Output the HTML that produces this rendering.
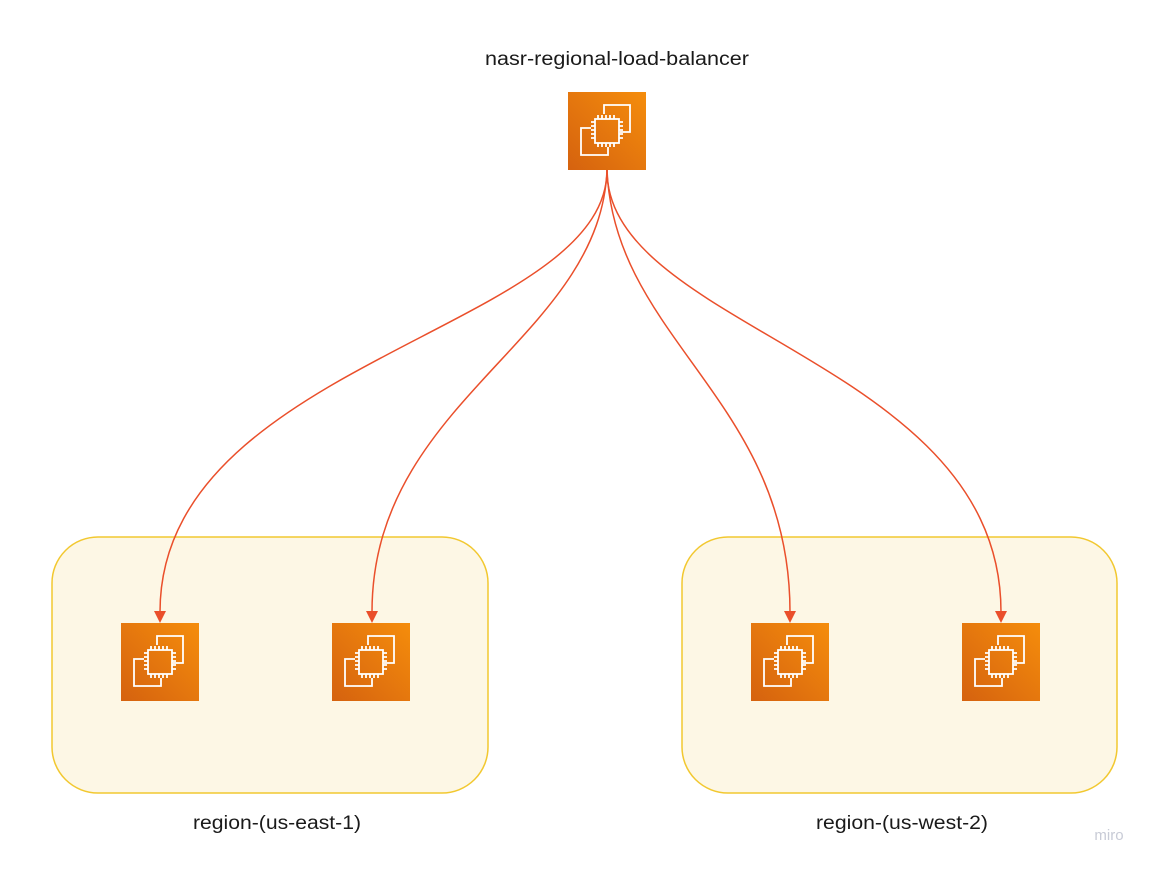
<!DOCTYPE html>
<html><head><meta charset="utf-8"><style>
body{margin:0;background:#fff;width:1153px;height:866px;overflow:hidden;font-family:"Liberation Sans",sans-serif}
</style></head><body>
<svg width="1153" height="866" xmlns="http://www.w3.org/2000/svg">
<defs>
<linearGradient id="g" x1="0" y1="1" x2="1" y2="0">
<stop offset="0" stop-color="#d5620f"/><stop offset="1" stop-color="#f58d0c"/>
</linearGradient>
<g id="ic">
<rect width="78" height="78" fill="url(#g)"/>
<g fill="none" stroke="#fff" stroke-width="1.8">
<polyline points="36,22 36,13 62,13 62,40 52,40"/>
<polyline points="23,36 13,36 13,63 40,63 40,55"/>
<rect x="27" y="27" width="24" height="24"/>
<path d="M30,23v4M34,23v4M38,23v4M42,23v4M46,23v4M30,51v4M34,51v4M38,51v4M42,51v4M46,51v4M23,30h4M23,34h4M23,38h4M23,42h4M23,46h4M51,30h4M51,34h4M51,38h4M51,42h4M51,46h4"/>
</g>
</g>
</defs>
<rect x="52" y="537" width="436" height="256" rx="46" fill="#fdf7e5" stroke="#f2c830" stroke-width="1.5"/>
<rect x="682" y="537" width="435" height="256" rx="46" fill="#fdf7e5" stroke="#f2c830" stroke-width="1.5"/>
<g fill="none" stroke="#ea4f2b" stroke-width="1.5">
<path d="M607,170 C607,330 160,360 160,612"/>
<path d="M607,170 C600,340 372,400 372,612"/>
<path d="M607,170 C614,340 790,400 790,612"/>
<path d="M607,170 C607,330 1001,360 1001,612"/>
</g>
<g fill="#ea4f2b">
<path d="M154,611 L166,611 L160,623 Z"/>
<path d="M366,611 L378,611 L372,623 Z"/>
<path d="M784,611 L796,611 L790,623 Z"/>
<path d="M995,611 L1007,611 L1001,623 Z"/>
</g>
<use href="#ic" x="568" y="92"/>
<use href="#ic" x="121" y="623"/>
<use href="#ic" x="332" y="623"/>
<use href="#ic" x="751" y="623"/>
<use href="#ic" x="962" y="623"/>
<g font-family="Liberation Sans, sans-serif" font-size="19" fill="#1a1a1a">
<text x="485" y="65" textLength="264" lengthAdjust="spacingAndGlyphs">nasr-regional-load-balancer</text>
<text x="193" y="829" textLength="168" lengthAdjust="spacingAndGlyphs">region-(us-east-1)</text>
<text x="816" y="829" textLength="172" lengthAdjust="spacingAndGlyphs">region-(us-west-2)</text>
</g>
<text x="1109" y="840" font-size="15" fill="#c8cbd6" text-anchor="middle">miro</text>
</svg>
</body></html>
